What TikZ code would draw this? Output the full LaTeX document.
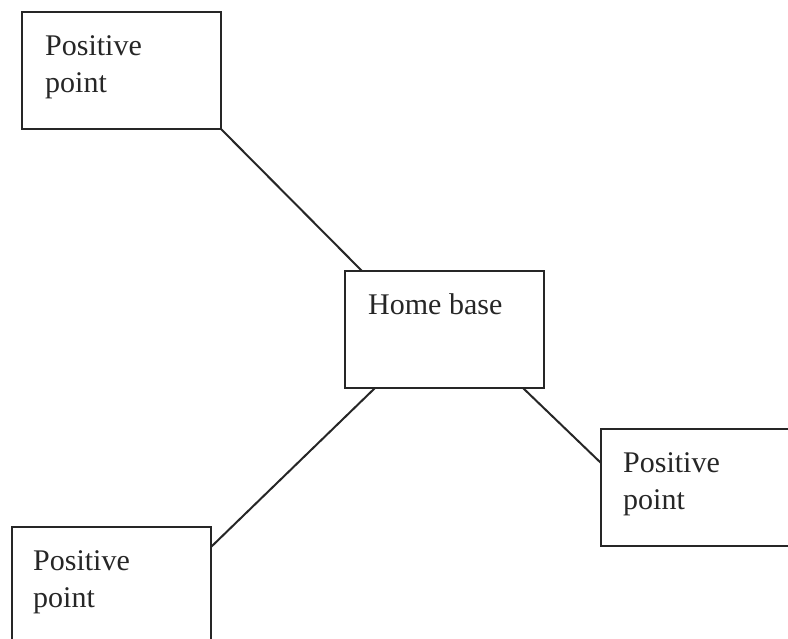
\documentclass[tikz,border=0pt]{standalone}
\usepackage{fontspec}
\setmainfont{Liberation Serif}
\definecolor{ink}{gray}{0.15}

\begin{document}
\begin{tikzpicture}[
        x=1pt, y=-1pt,
        box/.style={draw=ink, line width=2pt, minimum width=199pt, minimum height=117pt,
            inner sep=0pt, outer sep=0pt, anchor=north west},
        boxtext/.style={anchor=base west, align=left, inner sep=0pt, text=ink,
            font=\fontsize{30}{37}\selectfont},
        link/.style={draw=ink, line width=2pt}
    ]
    \useasboundingbox (0,0) rectangle (788,638);
    \clip (0,0) rectangle (788,638);
    \node[box] (topleft) at (22,12) {};
    \node[box] (home) at (345,271) {};
    \node[box] (right) at (601,429) {};
    \node[box] (botleft) at (12,527) {};

    % base west sits on the last line
    \node[boxtext] (topleft text) at ([xshift=23pt,yshift=-80pt]topleft.north west) {Positive\\point};
    \node[boxtext] (home text) at ([xshift=23pt,yshift=-43pt]home.north west) {Home base};
    \node[boxtext] (right text) at ([xshift=22pt,yshift=-80pt]right.north west) {Positive\\point};
    \node[boxtext] (botleft text) at ([xshift=21pt,yshift=-80pt]botleft.north west) {Positive\\point};

    \draw[link] (topleft.south east) -- ([xshift=17pt]home.north west);
    \draw[link] ([xshift=30pt]home.south west) -- ([yshift=-20pt]botleft.north east);
    \draw[link] ([xshift=-21pt]home.south east) -- ([yshift=-34pt]right.north west);
\end{tikzpicture}
\end{document}
